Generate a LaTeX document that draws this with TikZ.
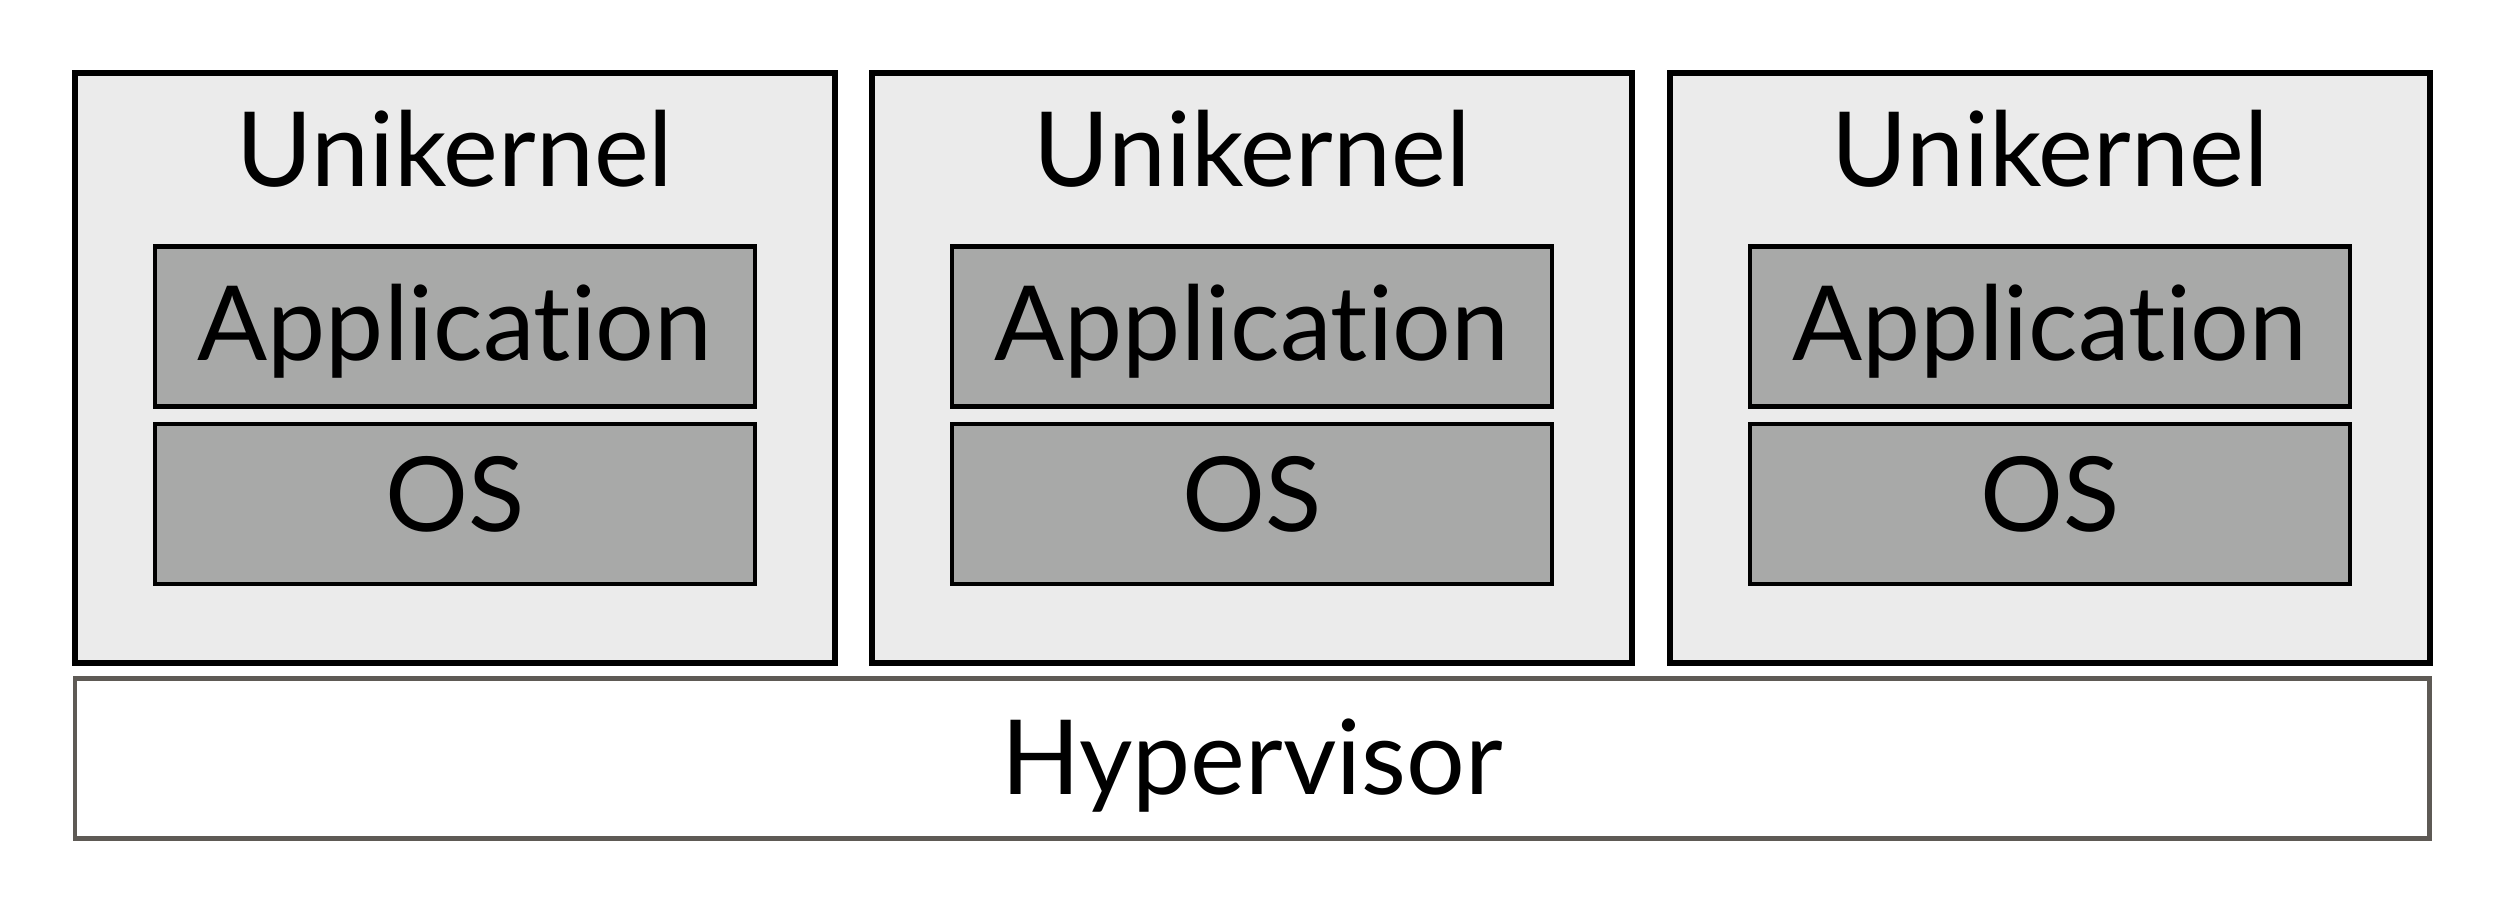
\documentclass[tikz,border=0pt]{standalone}
\usepackage{fontspec}
\setmainfont[Ligatures=NoCommon]{Lato}
\usepackage{tikz}

\definecolor{kernelgray}{HTML}{EBEBEB}
\definecolor{layergray}{HTML}{A8A9A8}
\definecolor{hypline}{HTML}{5E5A55}

\begin{document}
\begin{tikzpicture}
        [
          kernel/.style={draw=black,line width=1.7pt,fill=kernelgray,
            minimum width=7.60cm,minimum height=5.90cm,inner sep=0pt},
          layer/.style={draw=black,line width=1.4pt,fill=layergray,
            minimum width=6.00cm,minimum height=1.60cm,inner sep=0pt},
          label/.style={anchor=base,font=\fontsize{29.5}{35}\selectfont}
        ]
        \useasboundingbox (0,0) rectangle (25.12,9.14);
        % unikernels
        \foreach \i/\x in {1/4.55,2/12.52,3/20.50} {
            \node [kernel] (uk\i) at (\x,5.46) {};
            \node [layer] (app\i) at (\x,5.875) {};
            \node [layer] (os\i) at (\x,4.10) {};
            \node [label] (ukl\i) at (\x,7.28) {Unikernel};
            \node [label] (appl\i) at (\x,5.54) {Application};
            \node [label] (osl\i) at (\x,3.83) {OS};
        }
        % hypervisor
        \node [draw=hypline,line width=1.4pt,fill=white,inner sep=0pt,
          minimum width=23.54cm,minimum height=1.60cm] (hyp) at (12.52,1.555) {};
        \node [label] (hypl) at (12.52,1.20) {Hypervisor};
      \end{tikzpicture}
\end{document}
